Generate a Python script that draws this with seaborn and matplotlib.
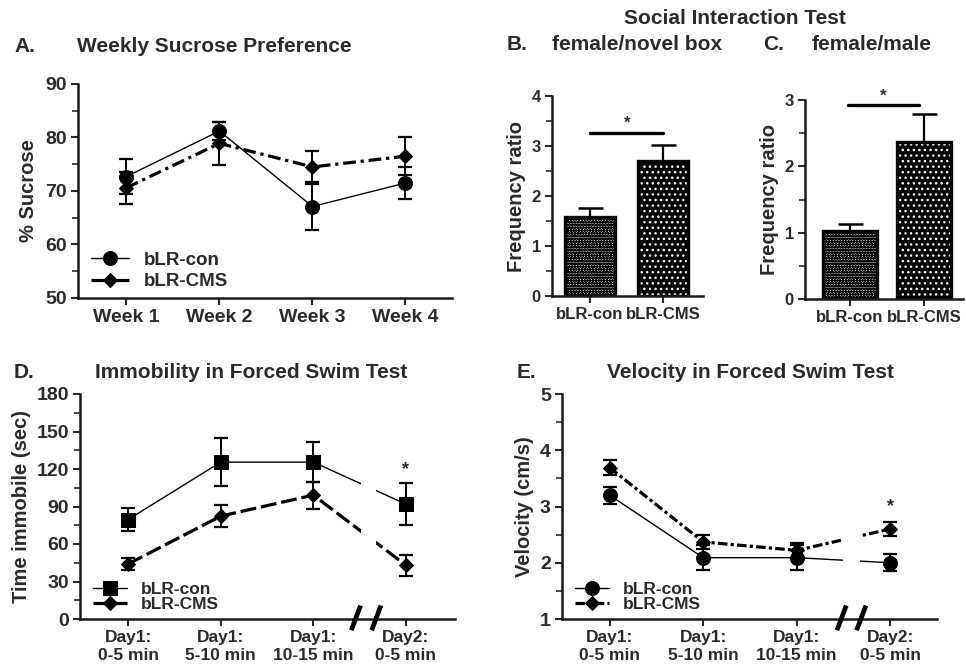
import numpy as np
import pandas as pd
import seaborn as sns
import matplotlib.pyplot as plt
import matplotlib.transforms as mtransforms

# ---- data ----
weeks = ['Week 1', 'Week 2', 'Week 3', 'Week 4']
sucrose_con = [72.7, 81.2, 67.1, 71.5]
sucrose_con_err = [3.3, 1.7, 4.3, 3.0]
sucrose_cms = [70.6, 78.9, 74.5, 76.5]
sucrose_cms_err = [3.0, 4.0, 2.9, 3.5]

groups = ['bLR-con', 'bLR-CMS']
novel_box = [1.58, 2.70]
novel_box_err = [0.19, 0.32]
female_male = [1.03, 2.37]
female_male_err = [0.10, 0.42]

periods = ['Day1:\n0-5 min', 'Day1:\n5-10 min', 'Day1:\n10-15 min', 'Day2:\n0-5 min']
immob_con = [79.6, 125.5, 125.5, 91.9]
immob_con_err = [9.4, 19.0, 16.0, 16.7]
immob_cms = [44.0, 82.3, 99.1, 43.0]
immob_cms_err = [5.0, 8.7, 10.7, 8.4]

vel_con = [3.20, 2.09, 2.09, 2.00]
vel_con_err = [0.155, 0.22, 0.22, 0.15]
vel_cms = [3.69, 2.37, 2.22, 2.60]
vel_cms_err = [0.13, 0.12, 0.13, 0.12]

sns.set_theme(style='ticks')
plt.rcParams['font.family'] = ['Liberation Sans', 'DejaVu Sans']
plt.rcParams['font.weight'] = 'bold'
plt.rcParams['axes.labelweight'] = 'bold'
TXT = '#2a2a2a'
plt.rcParams['text.color'] = TXT
plt.rcParams['axes.labelcolor'] = TXT
plt.rcParams['xtick.color'] = TXT
plt.rcParams['ytick.color'] = TXT

W, H = 966, 671
fig = plt.figure(figsize=(W / 100, H / 100), dpi=100)
TITLE = 15


def px_axes(left, top, right, bottom):
    return fig.add_axes([left / W, 1 - bottom / H, (right - left) / W, (bottom - top) / H])


def style_axes(ax, minor_step, lab_size=13.5):
    for s in ['top', 'right']:
        ax.spines[s].set_visible(False)
    for s in ['left', 'bottom']:
        ax.spines[s].set_linewidth(1.8)
        ax.spines[s].set_color('#1a1a1a')
    ax.tick_params(axis='both', which='major', width=1.5, length=5, labelsize=lab_size,
                   direction='out', pad=3)
    ax.tick_params(axis='x', which='minor', bottom=False)
    ax.yaxis.set_minor_locator(plt.MultipleLocator(minor_step))
    ax.tick_params(axis='y', which='minor', width=1.2, length=4)
    for lbl in ax.get_xticklabels() + ax.get_yticklabels():
        lbl.set_fontweight('bold')


def line_panel(ax, cats, con, con_err, cms, cms_err, con_marker, cms_ls, con_ms=10,
               leg_space=0.2, leg_size=13.5):
    pos = np.arange(len(cats))
    sns.lineplot(x=pos, y=con, ax=ax, color='black', lw=1.0, marker=con_marker,
                 markersize=con_ms, markeredgecolor='black', label='bLR-con', zorder=3)
    sns.lineplot(x=pos, y=cms, ax=ax, color='black', lw=2.3, linestyle=cms_ls, marker='D',
                 markersize=7.5, markeredgecolor='black', label='bLR-CMS', zorder=3)
    ax.errorbar(pos, con, yerr=con_err, fmt='none', ecolor='black', elinewidth=1.4, capsize=5, capthick=1.6, zorder=3)
    ax.errorbar(pos, cms, yerr=cms_err, fmt='none', ecolor='black', elinewidth=1.4, capsize=5, capthick=1.6, zorder=3)
    ax.set_xticks(pos)
    ax.legend(loc='lower left', bbox_to_anchor=(0.015, 0.0), frameon=False, handlelength=2.0,
              borderaxespad=0.0, labelspacing=leg_space, handletextpad=0.8,
              prop={'weight': 'bold', 'size': leg_size})
    ax.set_xlabel('')


def bar_panel(ax, vals, errs, width):
    df = pd.DataFrame({'group': groups, 'val': vals})
    sns.barplot(data=df, x='group', y='val', ax=ax, errorbar=None, width=width,
                color='white', linewidth=0)
    faces = ['#f2f2f2', 'black']
    hatch_cols = ['black', 'white']
    hatches = ['oooooo', '...']
    for p, fc, hc, h in zip(ax.patches, faces, hatch_cols, hatches):
        p.set_facecolor(fc)
        p.set_edgecolor(hc)
        p.set_hatch(h)
        p.set_linewidth(0)
    sns.barplot(data=df, x='group', y='val', ax=ax, errorbar=None, width=width,
                fill=False, edgecolor='black', linewidth=2.4)
    ax.errorbar(np.arange(len(groups)), vals, yerr=[[0] * len(errs), errs], fmt='none',
                ecolor='black', elinewidth=1.6, capsize=9, capthick=1.8, zorder=1)
    ax.set_xlabel('')


def break_marks(ax, x0, x1):
    tr = mtransforms.blended_transform_factory(ax.transData, ax.transAxes)
    for xc in (x0, x1):
        ax.plot([xc - 0.05, xc + 0.05], [-0.05, 0.06], transform=tr, color='black',
                lw=3.4, clip_on=False, zorder=5, solid_capstyle='butt')


def gap(ax, x0, x1):
    ax.axvspan(x0, x1, ymin=0.03, ymax=1, color='white', zorder=4, lw=0)


# ---- A: weekly sucrose preference ----
axA = px_axes(78, 84, 452, 298)
line_panel(axA, weeks, sucrose_con, sucrose_con_err, sucrose_cms, sucrose_cms_err,
           'o', (0, (4, 1.5, 1, 1.5)), leg_space=0.25)
axA.set_xticklabels(weeks)
axA.set_xlim(-0.52, 3.5)
axA.set_ylim(50, 90)
axA.set_yticks([50, 60, 70, 80, 90])
axA.set_ylabel('% Sucrose', fontsize=14.5, labelpad=5)
style_axes(axA, 5, 14)
fig.text(14 / W, 1 - 46 / H, 'A.', fontsize=TITLE, fontweight='bold', va='center')
fig.text(77 / W, 1 - 46 / H, 'Weekly Sucrose Preference', fontsize=TITLE, fontweight='bold', va='center')

# ---- B: female / novel box ----
axB = px_axes(552, 96, 703, 296)
bar_panel(axB, novel_box, novel_box_err, 0.68)
axB.set_xlim(-0.52, 1.54)
axB.set_ylim(0, 4)
axB.set_yticks([0, 1, 2, 3, 4])
axB.set_ylabel('Frequency ratio', fontsize=14.5, labelpad=4)
style_axes(axB, 0.5, 12)
axB.plot([0, 1], [3.26, 3.26], color='black', lw=2.4)
axB.text(0.5, 3.3, '*', ha='center', va='bottom', fontsize=12)

# ---- C: female / male ----
axC = px_axes(805, 100, 963, 299)
bar_panel(axC, female_male, female_male_err, 0.72)
axC.set_xlim(-0.6, 1.52)
axC.set_ylim(0, 3)
axC.set_yticks([0, 1, 2, 3])
axC.set_ylabel('Frequency ratio', fontsize=14.5, labelpad=4)
style_axes(axC, 0.5, 12)
axC.plot([-0.02, 0.93], [2.92, 2.92], color='black', lw=2.4)
axC.text(0.45, 2.95, '*', ha='center', va='bottom', fontsize=12)

fig.text(735 / W, 1 - 18 / H, 'Social Interaction Test', fontsize=TITLE, fontweight='bold',
         ha='center', va='center')
fig.text(507 / W, 1 - 45 / H, 'B.', fontsize=TITLE, fontweight='bold', va='center')
fig.text(552 / W, 1 - 45 / H, 'female/novel box', fontsize=TITLE, fontweight='bold', va='center')
fig.text(763 / W, 1 - 45 / H, 'C.', fontsize=TITLE, fontweight='bold', va='center')
fig.text(812 / W, 1 - 45 / H, 'female/male', fontsize=TITLE, fontweight='bold', va='center')

# ---- D: immobility ----
axD = px_axes(80, 394, 455, 619)
line_panel(axD, periods, immob_con, immob_con_err, immob_cms, immob_cms_err,
           's', (0, (5, 1.5)), con_ms=9.5, leg_space=0.0, leg_size=12.5)
axD.set_xticklabels(periods)
axD.set_xlim(-0.52, 3.53)
axD.set_ylim(0, 180)
axD.set_yticks(np.arange(0, 181, 30))
axD.set_ylabel('Time immobile (sec)', fontsize=14.5, labelpad=4)
style_axes(axD, 15, 14)
for lbl in axD.get_xticklabels():
    lbl.set_fontsize(12.5)
gap(axD, 2.51, 2.68)
break_marks(axD, 2.46, 2.68)
axD.text(3, 113, '*', ha='center', va='bottom', fontsize=13)
fig.text(14 / W, 1 - 372 / H, 'D.', fontsize=TITLE, fontweight='bold', va='center')
fig.text(95 / W, 1 - 372 / H, 'Immobility in Forced Swim Test', fontsize=TITLE, fontweight='bold', va='center')

# ---- E: velocity ----
axE = px_axes(562, 394, 937, 619)
line_panel(axE, periods, vel_con, vel_con_err, vel_cms, vel_cms_err,
           'o', (0, (3, 1, 1, 1)), leg_space=0.0, leg_size=12.5)
axE.set_xticklabels(periods)
axE.set_xlim(-0.51, 3.5)
axE.set_ylim(1, 5)
axE.set_yticks([1, 2, 3, 4, 5])
axE.set_ylabel('Velocity (cm/s)', fontsize=14.5, labelpad=4)
style_axes(axE, 0.5, 14)
for lbl in axE.get_xticklabels():
    lbl.set_fontsize(12.5)
gap(axE, 2.49, 2.68)
break_marks(axE, 2.48, 2.69)
axE.text(3, 2.85, '*', ha='center', va='bottom', fontsize=13)
fig.text(517 / W, 1 - 372 / H, 'E.', fontsize=TITLE, fontweight='bold', va='center')
fig.text(607 / W, 1 - 372 / H, 'Velocity in Forced Swim Test', fontsize=TITLE, fontweight='bold', va='center')

fig.savefig('out.png', dpi=100)
